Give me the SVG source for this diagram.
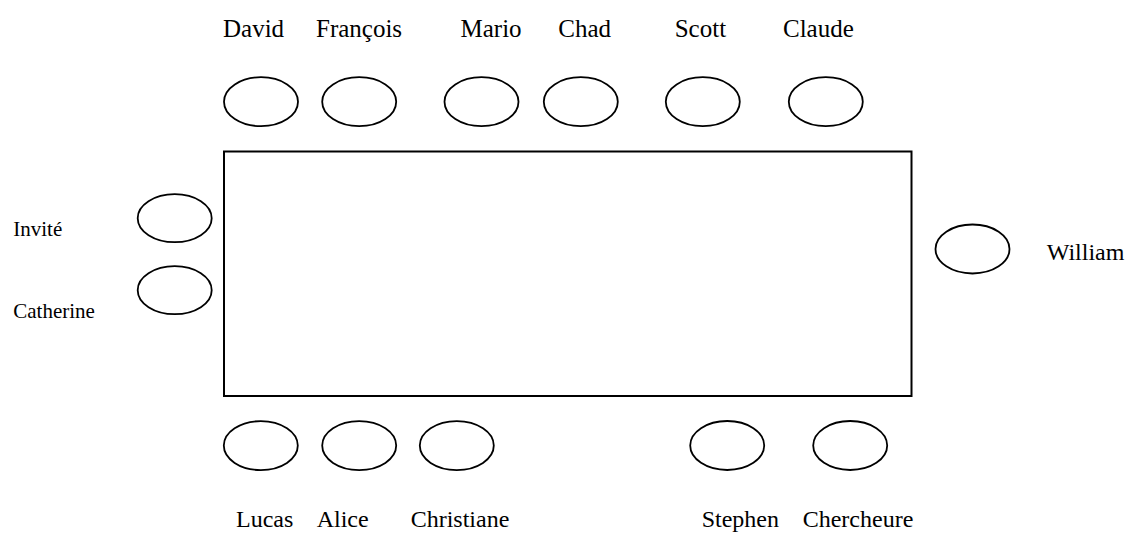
<svg xmlns="http://www.w3.org/2000/svg" width="1129" height="533" viewBox="0 0 1129 533">
<style>
.seat{fill:#fff;stroke:#000;stroke-width:1.8}
.tbl{fill:#fff;stroke:#000;stroke-width:2}
text{font-family:'Liberation Serif','Times New Roman',Tinos,'DejaVu Serif','Noto Serif',serif;font-size:25px;fill:#000}
.sm{font-size:21px}
.md{font-size:24px}
</style>
<rect width="1129" height="533" fill="#fff"/>
<g id="table"><rect class="tbl" x="224" y="151.5" width="687.5" height="244.5"/></g>
<g id="seat-david"><ellipse class="seat" cx="261" cy="101.7" rx="37" ry="24.5"/><text x="223" y="36.5">David</text></g>
<g id="seat-francois"><ellipse class="seat" cx="359.2" cy="101.7" rx="37" ry="24.5"/><text x="316" y="36.5">François</text></g>
<g id="seat-mario"><ellipse class="seat" cx="481.5" cy="101.7" rx="37" ry="24.5"/><text x="460.5" y="36.5">Mario</text></g>
<g id="seat-chad"><ellipse class="seat" cx="580.8" cy="101.7" rx="37" ry="24.5"/><text x="558.3" y="36.5">Chad</text></g>
<g id="seat-scott"><ellipse class="seat" cx="702.8" cy="101.7" rx="37" ry="24.5"/><text x="674.7" y="36.5">Scott</text></g>
<g id="seat-claude"><ellipse class="seat" cx="825.8" cy="101.7" rx="37" ry="24.5"/><text x="783" y="36.5">Claude</text></g>
<g id="seat-invite"><ellipse class="seat" cx="174.7" cy="218.2" rx="37" ry="24"/><text class="sm" x="13.3" y="236">Invité</text></g>
<g id="seat-catherine"><ellipse class="seat" cx="174.7" cy="290.2" rx="37" ry="24"/><text class="sm" x="13.3" y="318.3">Catherine</text></g>
<g id="seat-william"><ellipse class="seat" cx="972.5" cy="249" rx="37" ry="24.5"/><text class="md" x="1046.7" y="260">William</text></g>
<g id="seat-lucas"><ellipse class="seat" cx="260.8" cy="445.6" rx="37" ry="24.5"/><text class="md" x="236" y="526.5">Lucas</text></g>
<g id="seat-alice"><ellipse class="seat" cx="359.2" cy="445.6" rx="37" ry="24.5"/><text class="md" x="316.7" y="526.5">Alice</text></g>
<g id="seat-christiane"><ellipse class="seat" cx="456.8" cy="445.6" rx="37" ry="24.5"/><text class="md" x="410.7" y="526.5">Christiane</text></g>
<g id="seat-stephen"><ellipse class="seat" cx="727.2" cy="445.5" rx="37" ry="24.5"/><text class="md" x="701.7" y="526.5">Stephen</text></g>
<g id="seat-chercheure"><ellipse class="seat" cx="850.2" cy="445.5" rx="37" ry="24.5"/><text class="md" x="802.7" y="526.5">Chercheure</text></g>
<g id="connectors"></g>
</svg>
